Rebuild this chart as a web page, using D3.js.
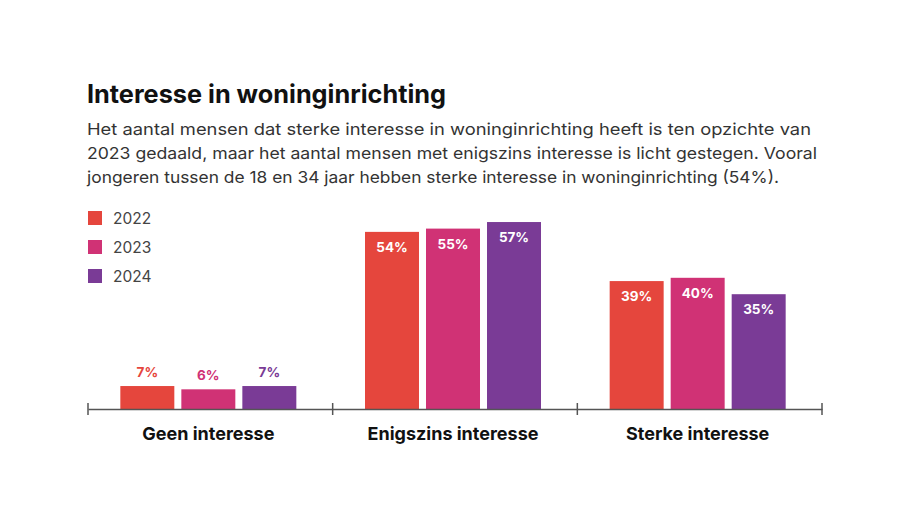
<!DOCTYPE html>
<html><head><meta charset="utf-8">
<script src="https://cdn.jsdelivr.net/npm/d3@7"></script>
<style>body{margin:0;background:#fff;font-family:Inter,"Open Sans",sans-serif;}</style>
</head><body>
<svg id="chart" width="920" height="518"></svg>
<script>
const categories = ["Geen interesse", "Enigszins interesse", "Sterke interesse"];
const years = ["2022", "2023", "2024"];
const values2022 = [7, 54, 39];
const values2023 = [6, 55, 40];
const values2024 = [7, 57, 35];
const colors = ["#e5463d", "#d03275", "#7a3b96"];
const title = "Interesse in woninginrichting";
const subtitle = [
  "Het aantal mensen dat sterke interesse in woninginrichting heeft is ten opzichte van",
  "2023 gedaald, maar het aantal mensen met enigszins interesse is licht gestegen. Vooral",
  "jongeren tussen de 18 en 34 jaar hebben sterke interesse in woninginrichting (54%)."
];
const subtitleWidths = [724, 730, 692];
const series = [values2022, values2023, values2024];

const svg = d3.select("#chart");
svg.append("rect").attr("width", 920).attr("height", 518).attr("fill", "#fff");

svg.append("text").attr("x", 87).attr("y", 103).text(title)
  .attr("font-size", 25).attr("font-weight", 700).attr("fill", "#111")
  .attr("textLength", 359).attr("lengthAdjust", "spacingAndGlyphs");
subtitle.forEach((s, i) => {
  svg.append("text").attr("x", 87).attr("y", 135 + i * 24).text(s)
    .attr("font-size", 16.5).attr("fill", "#333")
    .attr("textLength", subtitleWidths[i]).attr("lengthAdjust", "spacingAndGlyphs");
});

// legend
years.forEach((y, i) => {
  svg.append("rect").attr("x", 88).attr("y", 211 + i * 29).attr("width", 14).attr("height", 14).attr("fill", colors[i]);
  svg.append("text").attr("x", 113).attr("y", 224 + i * 29).text(y)
    .attr("font-size", 15.5).attr("fill", "#444");
});

const x0 = d3.scaleBand().domain(categories).range([86, 820]).padding(0);
const x1 = d3.scaleBand().domain(years).range([-88, 88]).paddingInner(0.115);
const y = d3.scaleLinear().domain([0, 100]).range([409, 81]);

const g = svg.append("g");
categories.forEach((c, ci) => {
  const cx = x0(c) + x0.bandwidth() / 2;
  years.forEach((yr, yi) => {
    const v = series[yi][ci];
    const bx = cx + x1(yr);
    g.append("rect").attr("x", bx).attr("y", y(v)).attr("width", x1.bandwidth())
      .attr("height", y(0) - y(v)).attr("fill", colors[yi]);
    const inside = v > 20;
    g.append("text").attr("x", bx + x1.bandwidth() / 2)
      .attr("y", inside ? y(v) + 20 : y(v) - 9)
      .attr("text-anchor", "middle").attr("font-size", 13.5).attr("font-weight", 700)
      .attr("fill", inside ? "#fff" : colors[yi]).text(v + "%");
  });
});

// axis
const axis = d3.axisBottom(x0).tickSize(0).tickFormat("");
const ag = svg.append("g").attr("transform", "translate(2,409)").call(axis);
ag.select(".domain").attr("stroke", "#555").attr("stroke-width", 1.5);
const tickPos = [88, ...categories.map(c => x0(c) + x0.bandwidth() + 2)];
tickPos.forEach(p => {
  svg.append("line").attr("x1", p).attr("x2", p).attr("y1", 403).attr("y2", 415)
    .attr("stroke", "#555").attr("stroke-width", 1.5);
});
categories.forEach(c => {
  svg.append("text").attr("x", x0(c) + x0.bandwidth() / 2).attr("y", 440)
    .attr("text-anchor", "middle").attr("font-size", 18).attr("font-weight", 700)
    .attr("fill", "#111").text(c);
});
</script>
</body></html>
